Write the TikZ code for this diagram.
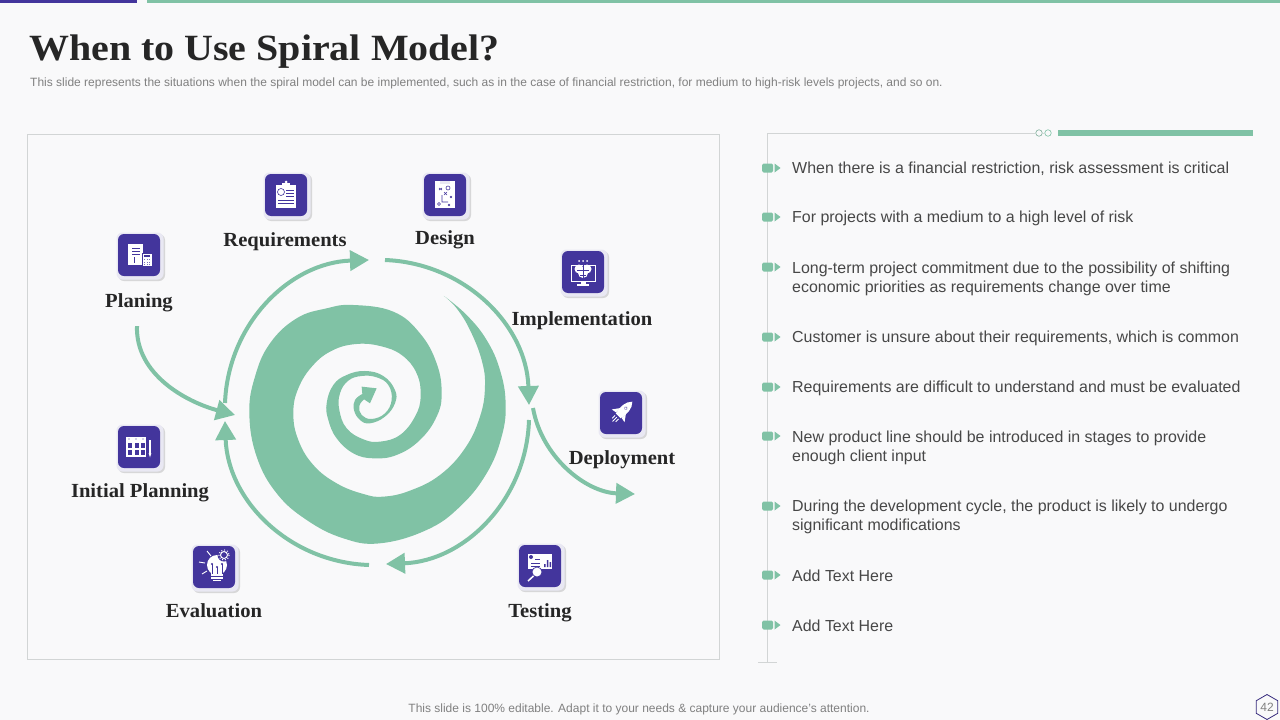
\documentclass[tikz,border=0pt]{standalone}
\usepackage{fontspec}
\setmainfont{Liberation Sans}
\newfontfamily\titlefont[FakeStretch=1.08]{Liberation Serif}
\newfontfamily\labelfont[FakeStretch=1.03]{Liberation Serif}
\usetikzlibrary{arrows.meta,shadows,shapes.geometric}

\definecolor{MPurple}{HTML}{43359C}
\definecolor{MGreen}{HTML}{80C2A5}
\definecolor{MBack}{HTML}{F9F9FA}
\definecolor{MHalo}{HTML}{E9E8F3}
\definecolor{MRule}{HTML}{D2D5D5}

\tikzset{
	ringarrow/.style={MGreen, line width=4pt, -{Triangle[length=19pt,width=20pt]}},
	tile/.style={fill=MPurple, rounded corners=6pt, minimum size=42pt, inner sep=0pt},
	tilehalo/.style={fill=MHalo, rounded corners=6pt, minimum size=47pt, inner sep=0pt,
		drop shadow={shadow xshift=1.5pt, shadow yshift=-1.5pt, opacity=.28, fill=gray}},
	steplabel/.style={anchor=base, text=black!85, font=\labelfont\bfseries\fontsize{20}{24}\selectfont},
	bullettext/.style={anchor=west, align=left, inner sep=0pt, text=black!72, font=\fontsize{15.95}{19}\selectfont},
	glyphline/.style={MPurple, line width=.6pt},
	whiteline/.style={white, line width=.9pt}
}

\begin{document}
\begin{tikzpicture}[x=1pt,y=-1pt]
	\useasboundingbox (0,0) rectangle (1280,720);
	\fill[MBack] (0,0) rectangle (1280,720);
	\fill[MPurple] (0,0) rectangle (137,3);
	\fill[MGreen] (147,0) rectangle (1280,3);

	\node[anchor=base west, inner sep=0pt, text=black!85, font=\titlefont\bfseries\fontsize{37}{40}\selectfont] (title) at (29,60) {When to Use Spiral Model?};
	\node[anchor=west, inner sep=0pt, text=black!50, font=\fontsize{12}{14}\selectfont] (subtitle) at (30,83.5) {This slide represents the situations when the spiral model can be implemented, such as in the case of financial restriction, for medium to high-risk levels projects, and so on.};

	\draw[MRule, line width=.8pt] (27,134) rectangle (719.5,659.5);

	% spiral
	\begin{scope}[shift={(220,240)},x=.3333pt,y=-.3333pt]
		\fill[MGreen] plot[smooth,tension=.7] coordinates {(672,168) (740,225) (800,300) (840,390) (857,490) (845,590) (800,700) (720,800) (620,870) (480,910) (370,895) (260,840) (170,760) (110,650) (88,520) (105,410) (150,310) (230,235) (320,205) (400,195) (520,215) (600,280) (650,370) (665,460) (650,530) (600,600) (530,645) (460,655) (400,640) (350,595) (325,540) (320,490) (340,435) (380,405) (435,393) (490,408) (525,450) (525,490) (495,530) (450,550) (420,540) (402,510) (405,480) (427,462)}
			-- (425,440) -- (470,445) -- (450,490) -- (432,478)
			-- plot[smooth,tension=.7] coordinates {(432,478) (418,498) (425,525) (455,537) (495,520) (515,480) (505,435) (470,412) (425,408) (385,422) (360,460) (358,510) (380,565) (430,598) (480,605) (540,585) (585,530) (602,470) (590,400) (545,345) (480,318) (410,312) (340,330) (280,375) (235,445) (220,520) (235,600) (280,675) (350,730) (430,762) (490,770) (570,752) (660,705) (735,625) (780,530) (795,440) (785,360) (750,270) (710,205) (672,168)} -- cycle;
	\end{scope}

	% ring of arrows
	\coordinate (ringA) at (225,403);
	\coordinate (ringB) at (369,260);
	\coordinate (ringC) at (385,260);
	\coordinate (ringD) at (529,405);
	\coordinate (ringE) at (529,420);
	\coordinate (ringF) at (386,564);
	\coordinate (ringG) at (369,565);
	\coordinate (ringH) at (225,421);
	\coordinate (planStart) at (137,326);
	\coordinate (planEnd) at (235,415);
	\coordinate (deployStart) at (533,408);
	\coordinate (deployEnd) at (635,494);
	\draw[ringarrow] (ringA) to[bend left=43] (ringB);
	\draw[ringarrow] (ringC) to[bend left=43] (ringD);
	\draw[ringarrow] (ringE) to[bend left=43] (ringF);
	\draw[ringarrow] (ringG) to[bend left=43] (ringH);
	\draw[ringarrow] (planStart) to[out=268,in=165,looseness=.95] (planEnd);
	\draw[ringarrow] (deployStart) to[out=280,in=178,looseness=.95] (deployEnd);

	\foreach \nm/\x/\y in {planIcon/139/255,reqIcon/286/195,designIcon/445/195,implIcon/583/272,deployIcon/621/413,initIcon/139/447,evalIcon/214/567,testIcon/540/566}{
		\node[tilehalo] (\nm Halo) at (\x+1,\y+1) {};
		\node[tile] (\nm) at (\x,\y) {};
	}

	% icon glyphs
	\begin{scope}[shift={(planIcon.center)}]
		\fill[white] (-11,-11) rectangle (4,10);
		\draw[glyphline] (-7,-7) -- (1,-7) (-7,-4) -- (1,-4) (-7,-1) -- (1,-1) (-5,2) -- (-5,8);
		\fill[white, draw=MPurple, line width=.7pt] (3,-2) rectangle (13,11);
		\fill[MPurple] (5,0) rectangle (11,2);
		\foreach \i in {5,7.5,10}\foreach \j in {4,6.5,9}{\fill[MPurple!70] (\i,\j) rectangle +(1.4,1.2);}
	\end{scope}
	\begin{scope}[shift={(reqIcon.center)}]
		\fill[white] (-10,-10) rectangle (10,13);
		\fill[white] (-4,-12) rectangle (4,-9);
		\fill[white] (0,-13) circle (1.5);
		\draw[glyphline] (-5,-3) circle (3.5);
		\draw[glyphline] (0,-5) -- (8,-5) (0,-2) -- (8,-2) (0,1) -- (8,1) (-8,5) -- (8,5) (-8,8) -- (8,8);
	\end{scope}
	\begin{scope}[shift={(designIcon.center)}]
		\fill[white] (-10,-14) rectangle (10,13);
		\fill[MHalo] (-5,-14) rectangle (5,-11);
		\draw[glyphline] (-6,-7) -- (-3,-5) (-6,-5) -- (-3,-7) (3,-7) circle (2) (-1,-3) -- (2,0) (-1,-0) -- (2,-3) (-3,0) -- (-3,7) -- (3,7) (5,1) -- (7,3) (5,3) -- (7,1) (-6,9) circle (1.5) (3,9) -- (5,11) (3,11) -- (5,9);
	\end{scope}
	\begin{scope}[shift={(implIcon.center)}]
		\draw[white, line width=1pt] (-12,-7) rectangle (12,9);
		\fill[white] (-2.5,9) rectangle (2.5,12);
		\fill[white] (-6,12) rectangle (6,13.5);
		\foreach \i in {-4,0,4}{\fill[white] (\i,-11) circle (1);}
		\fill[white] (-4,-3) circle (4.5) (4,-3) circle (4.5) (0,1) circle (5);
		\draw[glyphline] (0,-7) -- (0,6) (-6,-2) -- (6,-2) (-3,3) -- (3,3);
	\end{scope}
	\begin{scope}[shift={(deployIcon.center)},rotate=-45]
		\fill[white] (0,-16) .. controls (5,-11) and (5,-5) .. (3.5,4) -- (-3.5,4) .. controls (-5,-5) and (-5,-11) .. (0,-16) -- cycle;
		\fill[white] (-4,-3) -- (-9,4) -- (-4,3) -- cycle;
		\fill[white] (4,-3) -- (9,4) -- (4,3) -- cycle;
		\fill[MPurple] (0,-7) circle (1.8);
		\fill[white] (0,-7) circle (1.1);
		\draw[whiteline] (-2.5,6) -- (-2.5,10) (0,6) -- (0,12) (2.5,6) -- (2.5,10);
	\end{scope}
	\begin{scope}[shift={(initIcon.center)}]
		\fill[white] (-13,-10) rectangle (7,10);
		\foreach \i in {-11,-4.5,2}\foreach \j in {-4,3}{\fill[MPurple] (\i,\j) rectangle +(4,5);}
		\fill[MPurple] (-10,-8) circle (.7) (-3,-8) circle (.7) (4,-8) circle (.7);
		\draw[white, line width=2.8pt] (11,-7) -- (11,6);
		\fill[white] (9.6,6) -- (12.4,6) -- (11,10.5) -- cycle;
	\end{scope}
	\begin{scope}[shift={(evalIcon.center)}]
		\fill[white] (3,-2) circle (10);
		\fill[white] (-3,4) rectangle (9,9);
		\fill[white] (-3,10) rectangle (9,11.5);
		\fill[white] (-1,12.5) rectangle (7,14);
		\draw[glyphline] (-2,-3) -- (-2,7) (3,0) -- (3,7) (8,-3) -- (8,7);
		\fill[MPurple] (-2,-3) circle (1.2) (3,0) circle (1.2) (8,-3) circle (1.2);
		\fill[MPurple] (10,-12) circle (6.5);
		\draw[white, line width=1pt] (10,-12) circle (3.5);
		\draw[white, line width=1pt, dotted] (10,-12) circle (5.2);
		\draw[whiteline] (-7,-16) -- (-3,-11) (-15,-5) -- (-9,-4) (-12,7) -- (-7,4);
	\end{scope}
	\begin{scope}[shift={(testIcon.center)}]
		\fill[white] (-12,-12) rectangle (12,3);
		\fill[MPurple] (-9,-9) circle (2);
		\draw[glyphline] (-5,-7) -- (0,-7) (-9,-3) -- (0,-3) (-9,0) -- (0,0);
		\fill[MPurple] (4,-2) rectangle (5.5,1) (6.8,-6) rectangle (8.3,1) (9.6,-4) rectangle (11,1);
		\fill[white, draw=MPurple, line width=.7pt] (-3,6) circle (5);
		\draw[white, line width=1.5pt] (-6.5,10) -- (-12,15);
	\end{scope}

	\foreach \nm/\x/\y/\txt in {planLabel/139/307/Planing,reqLabel/285/246/Requirements,designLabel/445/244/Design,implLabel/582/325/Implementation,deployLabel/622/464/Deployment,initLabel/140/497/Initial Planning,evalLabel/214/617/Evaluation,testLabel/540/617/Testing}{
		\node[steplabel] (\nm) at (\x,\y) {\txt};
	}

	% right column frame
	\coordinate (frameTop) at (767,133);
	\coordinate (frameBottom) at (767,662);
	\coordinate (frameEnd) at (1035,133);
	\node[circle, draw=MGreen!70!gray, line width=.6pt, minimum size=6.5pt, inner sep=0pt] (ringOne) at (1039,133) {};
	\node[circle, draw=MGreen, line width=.6pt, minimum size=6.5pt, inner sep=0pt] (ringTwo) at (1048,133) {};
	\draw[MRule, line width=.8pt] (frameBottom) -- (frameTop) -- (frameEnd);
	\draw[MRule, line width=.6pt] (ringOne) -- (ringTwo);
	\draw[MRule, line width=.8pt] (758,662) -- (777,662);
	\fill[MGreen] (1058,130) rectangle (1253,135.5);

	\foreach \nm/\y/\ty/\txt in {
		itemA/168/169/{When there is a financial restriction, risk assessment is critical},
		itemB/217/218/{For projects with a medium to a high level of risk},
		itemC/267/278.5/{Long-term project commitment due to the possibility of shifting\\economic priorities as requirements change over time},
		itemD/337/338/{Customer is unsure about their requirements, which is common},
		itemE/387/388/{Requirements are difficult to understand and must be evaluated},
		itemF/436/447.5/{New product line should be introduced in stages to provide\\enough client input},
		itemG/506/516.5/{During the development cycle, the product is likely to undergo\\significant modifications},
		itemH/575/575.5/{Add Text Here},
		itemI/625/625.5/{Add Text Here}}{
		\fill[MGreen, rounded corners=1.5pt] (762,\y-4.5) rectangle (773,\y+4.5);
		\fill[MGreen] (774.5,\y-4.5) -- (780.5,\y) -- (774.5,\y+4.5) -- cycle;
		\node[bullettext] (\nm) at (792,\ty) {\txt};
	}

	\node[inner sep=0pt, text=black!50, font=\fontsize{12}{14}\selectfont] (footer) at (639,709) {This slide is 100\% editable. Adapt it to your needs \& capture your audience's attention.};
	\node[regular polygon, regular polygon sides=6, shape border rotate=30, draw=MPurple!80!black, line width=.8pt, minimum size=25pt, inner sep=0pt, text=black!50, font=\fontsize{12}{14}\selectfont] (pageNum) at (1267,707) {42};
\end{tikzpicture}
\end{document}
